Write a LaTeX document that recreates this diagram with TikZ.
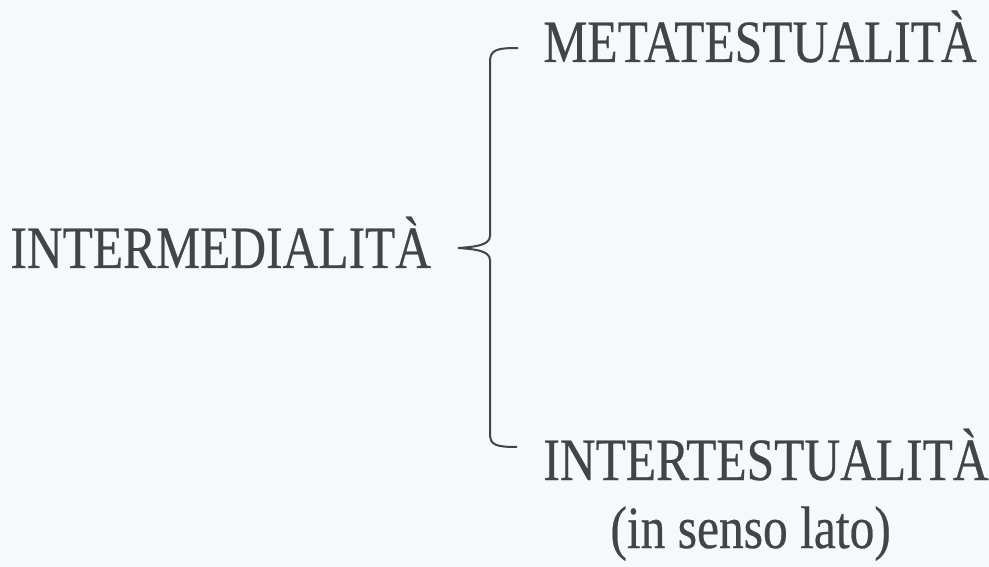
\documentclass[tikz,border=0pt]{standalone}
\usepackage{fontspec}
\setmainfont[FakeStretch=0.825,FakeBold=0.4]{Liberation Serif}
\definecolor{ink}{RGB}{66,68,72}
\definecolor{paper}{RGB}{246,248,251}

\begin{document}
\begin{tikzpicture}[x=1pt,y=-1pt,thick,main node/.style={inner sep=0pt,anchor=base west,text=ink,font=\fontsize{60}{70}\selectfont}]

                \fill[paper] (0,0) rectangle (989,567);
                \useasboundingbox (0,0) rectangle (989,567);

                \node[main node] (1) at (10,268) {INTERMEDIALITÀ};
                \node[main node] (2) at (543,62) {METATESTUALITÀ};
                \node[main node] (3) at (543,480) {INTERTESTUALITÀ};
                \node[main node] (4) at (610,548) {(in senso lato)};

                \coordinate (tip) at (458,248);
                \coordinate (top) at (518,48);
                \coordinate (bot) at (517,447);

                \draw[ink,line width=2pt]
                    (top) .. controls (496,48) and (490,50) .. (490,62)
                    -- (490,236) .. controls (490,246) and (472,247) .. (tip)
                    .. controls (472,249) and (490,250) .. (490,260)
                    -- (490,434) .. controls (490,445) and (496,447) .. (bot)
                ;
            \end{tikzpicture}
\end{document}
